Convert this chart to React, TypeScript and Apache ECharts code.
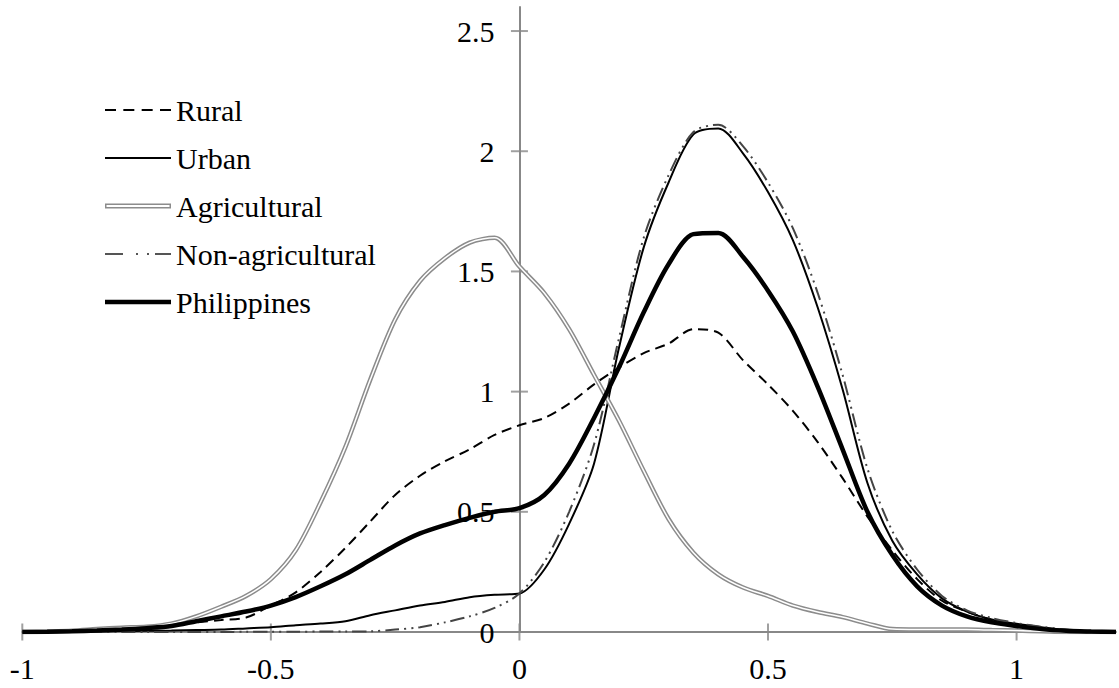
import React, { useEffect, useRef } from "react";
import * as echarts from "echarts";

const xValues = [-1, -0.95, -0.9, -0.85, -0.8, -0.75, -0.7, -0.65, -0.6, -0.55, -0.5, -0.45, -0.4, -0.35, -0.3, -0.25, -0.2, -0.15, -0.1, -0.05, 0, 0.05, 0.1, 0.15, 0.2, 0.25, 0.3, 0.35, 0.4, 0.45, 0.5, 0.55, 0.6, 0.65, 0.7, 0.75, 0.8, 0.85, 0.9, 0.95, 1, 1.05, 1.1, 1.15, 1.2];

const rural = [0, 0.002, 0.005, 0.008, 0.012, 0.02, 0.028, 0.04, 0.05, 0.06, 0.11, 0.165, 0.25, 0.35, 0.46, 0.57, 0.65, 0.71, 0.76, 0.82, 0.86, 0.89, 0.95, 1.03, 1.1, 1.16, 1.2, 1.26, 1.245, 1.13, 1.03, 0.92, 0.79, 0.64, 0.48, 0.34, 0.22, 0.13, 0.085, 0.05, 0.03, 0.015, 0.006, 0.002, 0];
const urban = [0, 0.001, 0.002, 0.003, 0.004, 0.005, 0.006, 0.008, 0.01, 0.015, 0.02, 0.028, 0.035, 0.045, 0.07, 0.09, 0.11, 0.125, 0.145, 0.155, 0.16, 0.26, 0.45, 0.7, 1.18, 1.6, 1.87, 2.07, 2.095, 1.99, 1.83, 1.63, 1.35, 1.01, 0.62, 0.38, 0.24, 0.14, 0.085, 0.052, 0.034, 0.02, 0.008, 0.003, 0];
const agricultural = [0, 0.002, 0.005, 0.012, 0.018, 0.022, 0.035, 0.065, 0.105, 0.15, 0.22, 0.34, 0.54, 0.77, 1.05, 1.3, 1.46, 1.555, 1.62, 1.64, 1.52, 1.41, 1.26, 1.07, 0.88, 0.67, 0.47, 0.33, 0.24, 0.185, 0.15, 0.11, 0.083, 0.062, 0.035, 0.012, 0.01, 0.01, 0.01, 0.008, 0.006, 0.003, 0, 0, 0];
const nonAgricultural = [0, 0, 0, 0, 0, 0, 0, 0, 0, 0.001, 0.001, 0.001, 0.002, 0.002, 0.003, 0.01, 0.02, 0.04, 0.065, 0.1, 0.16, 0.29, 0.5, 0.78, 1.22, 1.64, 1.9, 2.08, 2.11, 2.02, 1.87, 1.68, 1.41, 1.07, 0.68, 0.42, 0.26, 0.15, 0.09, 0.058, 0.037, 0.022, 0.01, 0.004, 0];
const philippines = [0, 0.001, 0.003, 0.006, 0.01, 0.016, 0.025, 0.045, 0.065, 0.085, 0.11, 0.145, 0.19, 0.24, 0.3, 0.36, 0.41, 0.445, 0.475, 0.5, 0.515, 0.57, 0.7, 0.89, 1.1, 1.33, 1.53, 1.655, 1.66, 1.56, 1.42, 1.25, 1.02, 0.76, 0.5, 0.32, 0.19, 0.11, 0.065, 0.04, 0.025, 0.012, 0.005, 0.002, 0];

const xTickValues = [-1, -0.5, 0, 0.5, 1];
const yTickValues = [0, 0.5, 1, 1.5, 2, 2.5];
const legendNames = ["Rural", "Urban", "Agricultural", "Non-agricultural", "Philippines"];

const X_MIN = -1;
const X_MAX = 1.2;
const Y_MIN = 0;
const Y_MAX = 2.6;

const pairs = (ys: number[]) => xValues.map((x, i) => [x, ys[i]]);
const isTick = (list: number[], v: number) => list.some((t) => Math.abs(t - v) < 1e-9);

export default function App() {
  const ref = useRef<HTMLDivElement>(null);
  useEffect(() => {
    const chart = echarts.init(ref.current as HTMLDivElement, null, { renderer: "svg" });
    const font = '"Liberation Serif", "Times New Roman", serif';
    const axisGray = "#888888";
    const W = 1119;
    const gridLeft = 22.3;
    const gridRight = 3;
    const unit = (W - gridLeft - gridRight) / (X_MAX - X_MIN);
    const yAxisOffset = -(0 - X_MIN) * unit;
    const lineBase = { type: "line", showSymbol: false, symbol: "none", smooth: 0.3, silent: true };
    chart.setOption({
      animation: false,
      textStyle: { fontFamily: font },
      grid: { left: gridLeft, right: gridRight, top: 7, bottom: 56, outerBoundsMode: "none" },
      legend: {
        show: true,
        orient: "vertical",
        left: 100,
        top: 88,
        itemWidth: 66,
        itemHeight: 14,
        itemGap: 14,
        selectedMode: false,
        textStyle: { fontFamily: font, fontSize: 30, color: "#000", lineHeight: 34 },
        data: [
          { name: legendNames[0], icon: "path://M0,0H11V2H0Z M18.33,0H29.33V2H18.33Z M36.67,0H47.67V2H36.67Z M55,0H66V2H55Z" },
          { name: legendNames[1], icon: "path://M0,0H66V2H0Z" },
          { name: legendNames[2], icon: "path://M0,0H66V5H0Z M1.5,1.5V3.5H64.5V1.5Z" },
          { name: legendNames[3], icon: "path://M0,0H18V2H0Z M31,0H33V2H31Z M42,0H44V2H42Z M50,0H66V2H50Z" },
          { name: legendNames[4], icon: "path://M0,0H66V4.5H0Z" },
        ],
      },
      xAxis: {
        type: "value",
        min: X_MIN,
        max: X_MAX,
        interval: 0.5,
        splitLine: { show: false },
        axisLine: { show: true, onZero: true, lineStyle: { color: axisGray, width: 2 } },
        axisTick: { show: false },
        axisLabel: {
          margin: 21,
          fontSize: 30,
          color: "#000",
          fontFamily: font,
          formatter: (v: number) => (isTick(xTickValues, v) ? String(v) : ""),
        },
      },
      yAxis: {
        type: "value",
        min: Y_MIN,
        max: Y_MAX,
        interval: 0.5,
        offset: yAxisOffset,
        splitLine: { show: false },
        axisLine: { show: true, onZero: false, lineStyle: { color: axisGray, width: 2 } },
        axisTick: { show: false },
        axisLabel: {
          margin: 25,
          fontSize: 30,
          color: "#000",
          fontFamily: font,
          formatter: (v: number) => (isTick(yTickValues, v) ? String(v) : ""),
        },
      },
      series: [
        {
          type: "scatter",
          name: "yticks",
          data: yTickValues.map((v) => [0, v]),
          symbol: "rect",
          symbolSize: [17, 2],
          itemStyle: { color: axisGray },
          silent: true,
          clip: false,
          z: 1,
        },
        {
          type: "scatter",
          name: "xticks",
          data: xTickValues.map((v) => [v, 0]),
          symbol: "rect",
          symbolSize: [2, 17],
          itemStyle: { color: axisGray },
          silent: true,
          clip: false,
          z: 1,
        },
        {
          ...lineBase,
          name: legendNames[0],
          data: pairs(rural),
          color: "#000",
          itemStyle: { color: "#000", borderWidth: 0 },
          lineStyle: { color: "#000", width: 2, type: [10, 6] },
          z: 3,
        },
        {
          ...lineBase,
          name: legendNames[1],
          data: pairs(urban),
          color: "#000",
          itemStyle: { color: "#000", borderWidth: 0 },
          lineStyle: { color: "#000", width: 2 },
          z: 3,
        },
        {
          ...lineBase,
          name: legendNames[2],
          data: pairs(agricultural),
          color: "#8c8c8c",
          itemStyle: { color: "#8c8c8c", borderWidth: 0 },
          lineStyle: { color: "#8c8c8c", width: 4.5 },
          z: 3,
        },
        {
          ...lineBase,
          name: "agricultural-inner",
          data: pairs(agricultural),
          color: "#ffffff",
          lineStyle: { color: "#ffffff", width: 1.5 },
          z: 3,
        },
        {
          ...lineBase,
          name: legendNames[3],
          data: pairs(nonAgricultural),
          color: "#555",
          itemStyle: { color: "#555", borderWidth: 0 },
          lineStyle: { color: "#444", width: 2, type: [14, 5, 2, 5, 2, 5] },
          z: 3,
        },
        {
          ...lineBase,
          name: legendNames[4],
          data: pairs(philippines),
          color: "#000",
          itemStyle: { color: "#000", borderWidth: 0 },
          lineStyle: { color: "#000", width: 4.5 },
          z: 3,
        },
      ],
    });
    return () => chart.dispose();
  }, []);
  return (
    <div
      ref={ref}
      style={{ position: "absolute", left: 0, top: 0, width: 1119, height: 688, background: "#fff" }}
    />
  );
}
